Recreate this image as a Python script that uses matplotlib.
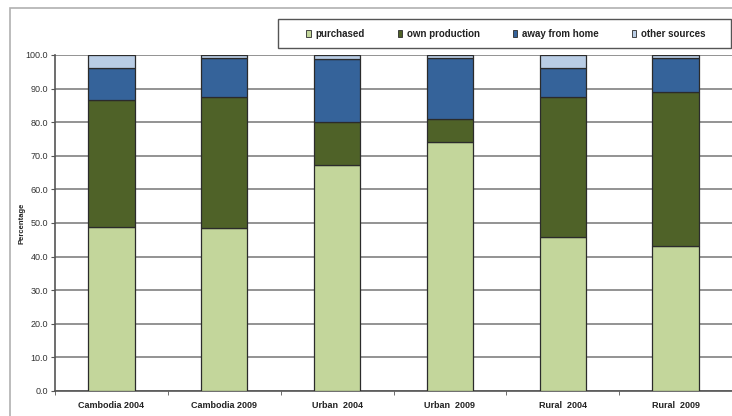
import matplotlib
matplotlib.use("Agg")
import matplotlib.pyplot as plt
import numpy as np
from matplotlib.patches import Rectangle

categories = ["Cambodia 2004", "Cambodia 2009", "Urban  2004", "Urban  2009", "Rural  2004", "Rural  2009"]
purchased = [48.8, 48.5, 67.2, 74.0, 45.7, 43.3]
own_production = [37.8, 39.0, 12.8, 7.0, 41.9, 45.8]
away_from_home = [9.4, 11.5, 18.8, 18.0, 8.4, 9.9]
other_sources = [4.0, 1.0, 1.2, 1.0, 4.0, 1.0]
series_names = ["purchased", "own production", "away from home", "other sources"]
yticks = [0, 10, 20, 30, 40, 50, 60, 70, 80, 90, 100]

colors = ["#C3D69B", "#4F6228", "#35639A", "#B9CDE5"]

plt.rcParams["font.family"] = ["Liberation Sans", "DejaVu Sans"]

fig = plt.figure(figsize=(7.32, 4.16), dpi=100)
W, H = 732, 416
ax = fig.add_axes([55 / W, 1 - 391 / H, (732 - 55) / W, 336 / H])

x = np.arange(len(categories))
series = [purchased, own_production, away_from_home, other_sources]
bottom = np.zeros(len(categories))
handles = []
for vals, c, name in zip(series, colors, series_names):
    b = ax.bar(x, vals, width=0.41, bottom=bottom, color=c, edgecolor="#2b2b2b",
               linewidth=0.9, label=name, zorder=3)
    handles.append(b)
    bottom += np.array(vals)

ax.set_xlim(-0.5, len(categories) - 0.5)
ax.set_ylim(0, 100)
ax.set_yticks(yticks)
ax.set_yticklabels([f"{v:.1f}" for v in yticks], fontsize=6.5, color="#333333")
ax.set_xticks(x)
ax.set_xticklabels(categories, fontsize=6.5, fontweight="bold", color="#222222")
ax.set_xticks(np.arange(-0.5, len(categories), 1.0), minor=True)
ax.tick_params(axis="x", which="major", length=0, pad=7)
ax.tick_params(axis="x", which="minor", length=3, color="#555555", direction="out")
ax.tick_params(axis="y", length=3, color="#555555", pad=2)
ax.yaxis.grid(True, color="#8a8a8a", linewidth=1.3, zorder=0)
ax.set_axisbelow(True)
for s in ["top", "right"]:
    ax.spines[s].set_visible(False)
ax.spines["left"].set_color("#555555")
ax.spines["bottom"].set_color("#555555")
ax.spines["left"].set_linewidth(1.2)
ax.spines["bottom"].set_linewidth(1.2)

fig.text(22 / W, 1 - 223 / H, "Percentage", rotation=90, fontsize=5.5, fontweight="bold",
         ha="center", va="center", color="#222222")

# outer chart frame
fig.add_artist(Rectangle((10 / W, -0.05), 1.0, 1 - 8 / H + 0.05, transform=fig.transFigure,
                         fill=False, edgecolor="#b0b0b0", linewidth=1.2))

# legend frame
fig.add_artist(Rectangle((278 / W, 1 - 48 / H), 453 / W, 29 / H, transform=fig.transFigure,
                         fill=True, facecolor="white", edgecolor="#555555", linewidth=1.0,
                         zorder=4))

leg = fig.legend(handles=handles, labels=series_names, loc="center",
                 bbox_to_anchor=(506 / W, 1 - 34 / H), ncol=4,
                 fontsize=7, frameon=False, handlelength=0.45,
                 handleheight=0.75, handletextpad=0.5, columnspacing=3.4,
                 borderpad=0.6)
leg.set_zorder(5)
for t in leg.get_texts():
    t.set_fontweight("bold")
    t.set_color("#222222")
for p in leg.legend_handles:
    p.set_linewidth(0.6)

fig.savefig("out.png", dpi=100)
